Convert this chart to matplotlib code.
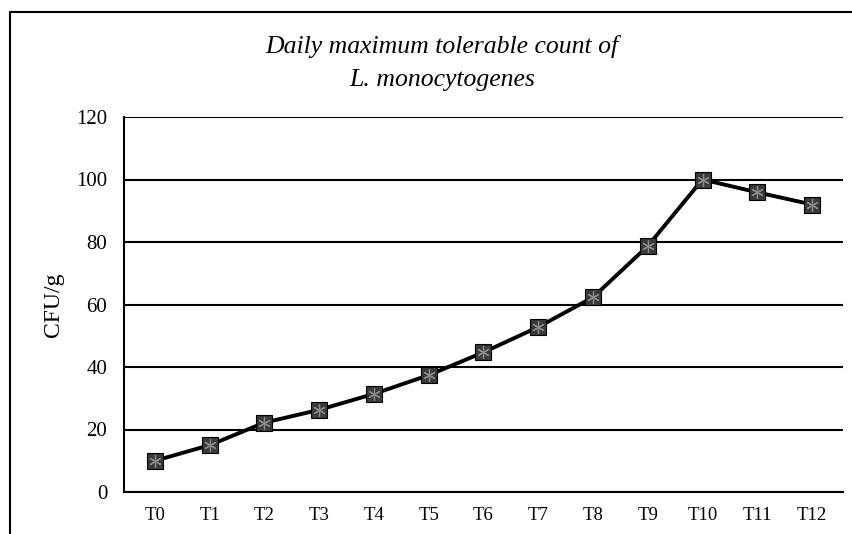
import matplotlib.pyplot as plt
from matplotlib.patches import Rectangle

# days and maximum tolerable count (CFU/g)
days = ['T0', 'T1', 'T2', 'T3', 'T4', 'T5', 'T6', 'T7', 'T8', 'T9', 'T10', 'T11', 'T12']
cfu = [10, 15, 22.2, 26.3, 31.4, 37.4, 44.7, 52.8, 62.3, 78.7, 100, 95.9, 92]

plt.rcParams['font.family'] = ['Liberation Serif', 'DejaVu Serif']

fig = plt.figure(figsize=(8.53, 5.34), dpi=100)
ax = fig.add_axes([124/853, 42/534, 719/853, 375/534])

x = list(range(len(days)))
ax.plot(x, cfu, color='black', lw=2.8, marker='s', ms=11,
        mfc='#3a3a3a', mec='black', mew=0.8, zorder=3)
ax.plot(x, cfu, ls='none', marker=(6, 2, 0), ms=9, mec='#8a8a8a', mew=0.9, zorder=4)

ax.set_xlim(-0.566, 12.566)
ax.set_ylim(0, 120)
ax.set_yticks(range(0, 121, 20))
ax.set_xticks(x)
ax.set_xticklabels(days, fontsize=13.5)
ax.tick_params(axis='y', labelsize=15, length=0, pad=12)
ax.tick_params(axis='x', length=0, pad=11)
ax.grid(axis='y', color='black', lw=1.5)
ax.set_axisbelow(True)
for s in ['top', 'right']:
    ax.spines[s].set_visible(False)
for s in ['left', 'bottom']:
    ax.spines[s].set_linewidth(1.5)

ax.set_ylabel('CFU/g', fontsize=17, labelpad=9)

fig.text(442/853, 1 - 47/534, 'Daily maximum tolerable count of', style='italic',
         fontsize=18.5, ha='center', va='center')
fig.text(442/853, 1 - 80/534, 'L. monocytogenes', style='italic',
         fontsize=18.5, ha='center', va='center')

fig.patches.append(Rectangle((10/853, -0.1), 1.2, 1 - 12/534 + 0.1, transform=fig.transFigure,
                             fill=False, ec='black', lw=1.5))

fig.savefig('out.png', dpi=100)
